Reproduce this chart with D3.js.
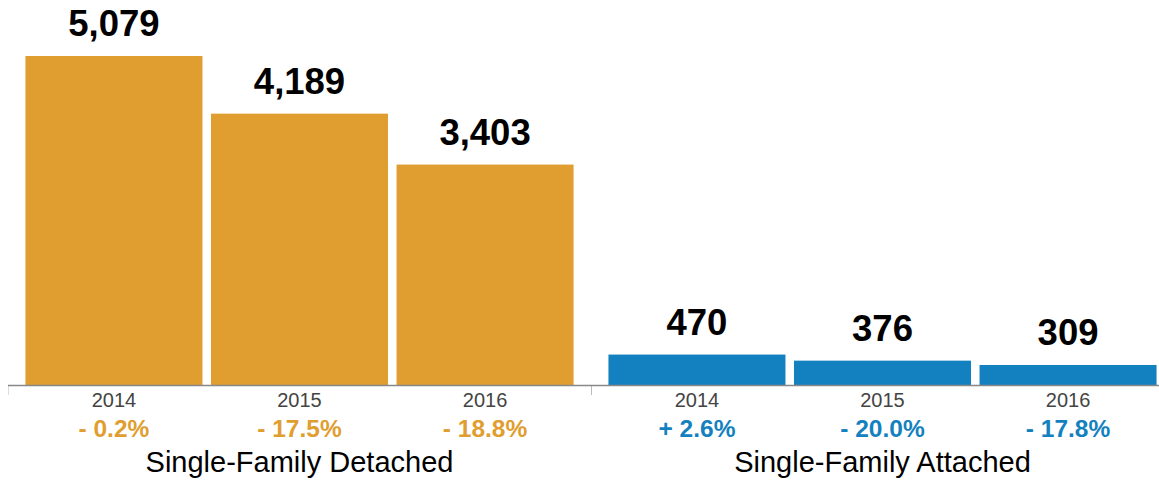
<!DOCTYPE html>
<html>
<head>
<meta charset="utf-8">
<script src="https://cdn.jsdelivr.net/npm/d3@7"></script>
<style>
  body { margin: 0; background: #fff; }
  svg { display: block; font-family: "Liberation Sans", Arial, Helvetica, sans-serif; }
</style>
</head>
<body>
<div id="chart"></div>
<script>
// Housing sales by type and year
const groups = ['Single-Family Detached', 'Single-Family Attached'];
const years = ['2014', '2015', '2016'];
const detached = [5079, 4189, 3403];
const attached = [470, 376, 309];
const detachedChange = ['- 0.2%', '- 17.5%', '- 18.8%'];
const attachedChange = ['+ 2.6%', '- 20.0%', '- 17.8%'];
const groupColors = ['#e09e30', '#1381c0'];

const seriesValues = [detached, attached];
const seriesChange = [detachedChange, attachedChange];

const width = 1159, height = 480;
const baseline = 385;

const svg = d3.select('#chart')
    .append('svg')
    .attr('width', width)
    .attr('height', height);

const x0 = d3.scaleBand()
    .domain(groups)
    .range([8, 1174]);

const x1 = d3.scaleBand()
    .domain(years)
    .range([0, x0.bandwidth()])
    .paddingInner(0.046)
    .paddingOuter(0.094);

const y = d3.scaleLinear()
    .domain([0, 5079])
    .range([baseline, 56]);

const fmt = d3.format(',');

groups.forEach((g, gi) => {
    const gx = x0(g);
    const rows = years.map((yr, i) => ({
        year: yr,
        value: seriesValues[gi][i],
        change: seriesChange[gi][i]
    }));

    const layer = svg.append('g')
        .attr('transform', `translate(${gx},0)`);

    layer.selectAll('.bar')
        .data(rows)
        .enter()
        .append('rect')
        .attr('class', 'bar')
        .attr('x', d => x1(d.year))
        .attr('y', d => y(d.value))
        .attr('width', x1.bandwidth())
        .attr('height', d => baseline - y(d.value))
        .attr('fill', groupColors[gi]);

    layer.selectAll('.value')
        .data(rows)
        .enter()
        .append('text')
        .attr('class', 'value')
        .attr('x', d => x1(d.year) + x1.bandwidth() / 2)
        .attr('y', d => y(d.value) - 20)
        .attr('text-anchor', 'middle')
        .style('font-size', '36.5px')
        .style('font-weight', 'bold')
        .attr('fill', '#000')
        .text(d => fmt(d.value));

    layer.selectAll('.year')
        .data(rows)
        .enter()
        .append('text')
        .attr('class', 'year')
        .attr('x', d => x1(d.year) + x1.bandwidth() / 2)
        .attr('y', 407)
        .attr('text-anchor', 'middle')
        .style('font-size', '20px')
        .attr('fill', '#444')
        .text(d => d.year);

    layer.selectAll('.change')
        .data(rows)
        .enter()
        .append('text')
        .attr('class', 'change')
        .attr('x', d => x1(d.year) + x1.bandwidth() / 2)
        .attr('y', 437)
        .attr('text-anchor', 'middle')
        .style('font-size', '24.5px')
        .style('font-weight', 'bold')
        .attr('fill', groupColors[gi])
        .text(d => d.change);

    layer.append('text')
        .attr('x', x0.bandwidth() / 2)
        .attr('y', 472)
        .attr('text-anchor', 'middle')
        .style('font-size', '29px')
        .attr('fill', '#000')
        .text(g);

    // group tick
    layer.append('line')
        .attr('x1', 0.5).attr('x2', 0.5)
        .attr('y1', baseline).attr('y2', baseline + 10)
        .attr('stroke', gi === 0 ? '#ddd' : '#bbb')
        .attr('stroke-width', 1);
});

// axis line
svg.append('line')
    .attr('x1', 8)
    .attr('x2', width)
    .attr('y1', baseline + 0.5)
    .attr('y2', baseline + 0.5)
    .attr('stroke', '#888')
    .attr('stroke-width', 1.5);
</script>
</body>
</html>
